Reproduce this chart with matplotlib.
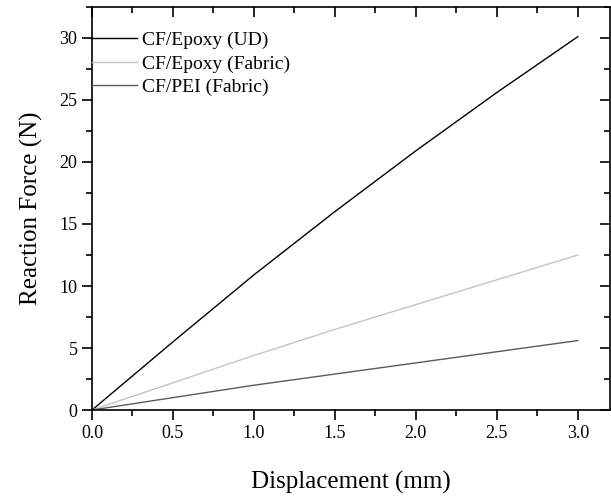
import matplotlib.pyplot as plt
from matplotlib.ticker import MultipleLocator

plt.rcParams['font.family'] = 'Liberation Serif'

disp = [0.0, 0.5, 1.0, 1.5, 2.0, 2.5, 3.0]
ud = [0.0, 5.5, 10.9, 16.0, 20.9, 25.6, 30.1]
epoxy_fabric = [0.0, 2.2, 4.4, 6.5, 8.5, 10.5, 12.5]
pei_fabric = [0.0, 1.0, 2.0, 2.9, 3.8, 4.7, 5.6]

fig = plt.figure(figsize=(6.11, 4.97), dpi=100)
ax = fig.add_axes([0.1506, 0.175, 0.848, 0.811])

ax.plot(disp, ud, color='black', lw=1.0, label='CF/Epoxy (UD)')
ax.plot(disp, epoxy_fabric, color='#c4c4c4', lw=1.0, label='CF/Epoxy (Fabric)')
ax.plot(disp, pei_fabric, color='#5a5a5a', lw=1.0, label='CF/PEI (Fabric)')

ax.set_xlim(0, 3.2)
ax.set_ylim(0, 32.5)
ax.xaxis.set_major_locator(MultipleLocator(0.5))
ax.xaxis.set_minor_locator(MultipleLocator(0.25))
ax.yaxis.set_major_locator(MultipleLocator(5))
ax.yaxis.set_minor_locator(MultipleLocator(2.5))
ax.tick_params(which='both', direction='out', top=True, right=True, labelsize=13, width=1.2)
ax.tick_params(which='major', length=7)
ax.tick_params(which='minor', length=4)
for s in ax.spines.values():
    s.set_linewidth(1.2)

# top/right ticks point inward
for t in ax.xaxis.get_major_ticks() + ax.xaxis.get_minor_ticks():
    t.tick2line.set_marker(3)
for t in ax.yaxis.get_major_ticks() + ax.yaxis.get_minor_ticks():
    t.tick2line.set_marker(0)

ax.set_xlabel('Displacement (mm)', fontsize=18, labelpad=21)
ax.set_ylabel('Reaction Force (N)', fontsize=18, labelpad=12)

ax.legend(loc='upper left', frameon=False, fontsize=14, handlelength=2.3,
          handletextpad=0.26, labelspacing=0.31, borderaxespad=0, borderpad=0,
          bbox_to_anchor=(0.0, 0.94))

fig.savefig('out.png', dpi=100)
